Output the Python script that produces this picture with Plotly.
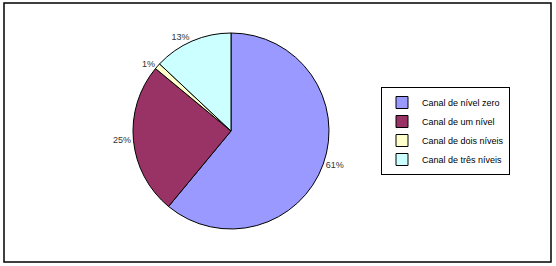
import plotly.graph_objects as go

labels = ["Canal de nível zero", "Canal de um nível", "Canal de dois níveis", "Canal de três níveis"]
values = [61, 25, 1, 13]
colors = ["#9999FF", "#993366", "#FFFFCC", "#CCFFFF"]

W, H = 556, 266
ml, mr, mt, mb = 4, 5, 3, 4
pw, ph = W - ml - mr, H - mt - mb
cx, cy, r = 231, 131, 98

fig = go.Figure(go.Pie(
    labels=labels, values=values, sort=False, direction="clockwise", rotation=0,
    marker=dict(colors=colors, line=dict(color="black", width=1)),
    textinfo="percent", textposition="outside",
    texttemplate="%{value}%",
    textfont=dict(family="Liberation Sans, Arial", size=9, color="#333333"),
    domain=dict(x=[(cx - r - ml) / pw, (cx + r - ml) / pw],
                y=[(H - mb - (cy + r)) / ph, (H - mb - (cy - r)) / ph]),
))

fig.update_layout(
    width=W, height=H, margin=dict(l=ml, r=mr, t=mt, b=mb),
    paper_bgcolor="white", plot_bgcolor="white",
    font=dict(family="Liberation Sans, Arial", size=9, color="black"),
    legend=dict(x=(381 - ml) / pw, y=(H - mb - 131) / ph, xanchor="left", yanchor="middle",
                bordercolor="black", borderwidth=1, bgcolor="white",
                font=dict(size=9), tracegroupgap=0, itemwidth=30),
    shapes=[dict(type="rect", xref="paper", yref="paper", x0=0, x1=1, y0=0, y1=1,
                 line=dict(color="black", width=1.5))],
)

fig.write_html("out.html", config={"displayModeBar": False},
               post_script="document.body.style.margin='0';")
